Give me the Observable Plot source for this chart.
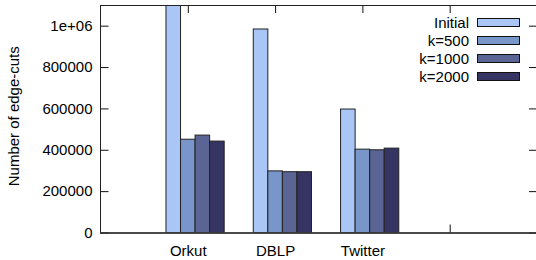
<!DOCTYPE html>
<html>
<head>
<meta charset="utf-8">
<script src="https://cdn.jsdelivr.net/npm/d3@7"></script>
<script src="https://cdn.jsdelivr.net/npm/@observablehq/plot@0.6"></script>
<style>
  html, body { margin: 0; padding: 0; background: #fff; }
  #wrap { position: relative; width: 536px; height: 260px; overflow: hidden; font-family: "Liberation Sans", Arial, Helvetica, sans-serif; }
  #legend { position: absolute; left: 0; top: 0; }
  .row { position: absolute; left: 360px; height: 18px; display: flex; align-items: center; font-size: 15px; color: #000; }
  .row span { display: inline-block; width: 109px; text-align: right; }
  .row i { display: inline-block; width: 43px; height: 9px; margin-left: 8px; box-sizing: border-box; border: 1px solid #111; }
</style>
</head>
<body>
<div id="wrap"><div id="legend"></div></div>
<script>
const categories = ["Orkut", "DBLP", "Twitter"];
const series = ["Initial", "k=500", "k=1000", "k=2000"];
const initial = [1100000, 984000, 597000];
const k500 = [451000, 298000, 403000];
const k1000 = [471000, 294000, 400000];
const k2000 = [442000, 294000, 408000];
const colors = ["#a9c6f6", "#7896c9", "#5a6495", "#363462"];
const yTicks = [0, 200000, 400000, 600000, 800000, 1000000];
const xTicks = [1, 2, 3, 4];
const yLabel = "Number of edge-cuts";

const seriesValues = [initial, k500, k1000, k2000];
const rows = [];
categories.forEach((c, ci) => {
  seriesValues.forEach((vals, si) => {
    rows.push({category: c, series: series[si], ci, si, value: vals[ci]});
  });
});

const bw = 1 / 6;
const tickLen = 8 / 87.3;
const yTickLen = 8 / 227.5 * 1100000;

const chart = Plot.plot({
  width: 536,
  height: 260,
  marginLeft: 100,
  marginTop: 5,
  marginBottom: 27.5,
  marginRight: 0,
  style: {fontFamily: "'Liberation Sans', Arial, Helvetica, sans-serif", fontSize: "15px", color: "#000", background: "#fff"},
  x: {domain: [0, 5], range: [100.5, 537], axis: null},
  y: {domain: [0, 1100000], axis: null},
  color: {domain: series, range: colors},
  marks: [
    // inward ticks, left & right
    Plot.ruleY(yTicks, {y: d => d, x1: 0, x2: tickLen, stroke: "#111"}),
    Plot.ruleY(yTicks, {y: d => d, x1: 5 - tickLen, x2: 5, stroke: "#111"}),
    // inward ticks, top & bottom
    Plot.ruleX(xTicks, {x: d => d, y1: 1100000 - yTickLen, y2: 1100000, stroke: "#111"}),
    Plot.ruleX(xTicks, {x: d => d, y1: 0, y2: yTickLen, stroke: "#111"}),
    Plot.rectY(rows, {
      x1: d => d.ci + 1 - 0.25 + d.si * bw,
      x2: d => d.ci + 1 - 0.25 + (d.si + 1) * bw,
      y1: 0,
      y2: "value",
      fill: "series",
      stroke: "#222",
      strokeWidth: 1,
      clip: true
    }),
    Plot.frame({stroke: "#222", strokeWidth: 1}),
    Plot.ruleY([0], {stroke: "#333", strokeWidth: 1.5}),
    Plot.axisY(yTicks, {
      anchor: "left",
      tickSize: 0,
      tickPadding: 8,
      tickFormat: d => d === 1000000 ? "1e+06" : String(d),
      label: null,
      fontSize: 15,
      fill: "#000"
    }),
    Plot.axisX([1, 2, 3], {
      anchor: "bottom",
      tickSize: 0,
      tickPadding: 12,
      tickFormat: d => categories[d - 1],
      label: null,
      fontSize: 15,
      fill: "#000"
    }),
    Plot.text([yLabel], {
      text: d => d,
      frameAnchor: "left",
      rotate: -90,
      dx: -86,
      dy: -3,
      fontSize: 15,
      fill: "#000",
      textAnchor: "middle",
      lineAnchor: "middle"
    })
  ]
});

document.getElementById("wrap").prepend(chart);

const legend = document.getElementById("legend");
series.forEach((s, i) => {
  const row = document.createElement("div");
  row.className = "row";
  row.style.top = (13.5 + i * 18.1) + "px";
  const t = document.createElement("span");
  t.textContent = s;
  const sw = document.createElement("i");
  sw.style.background = colors[i];
  row.appendChild(t);
  row.appendChild(sw);
  legend.appendChild(row);
});
</script>
</body>
</html>
